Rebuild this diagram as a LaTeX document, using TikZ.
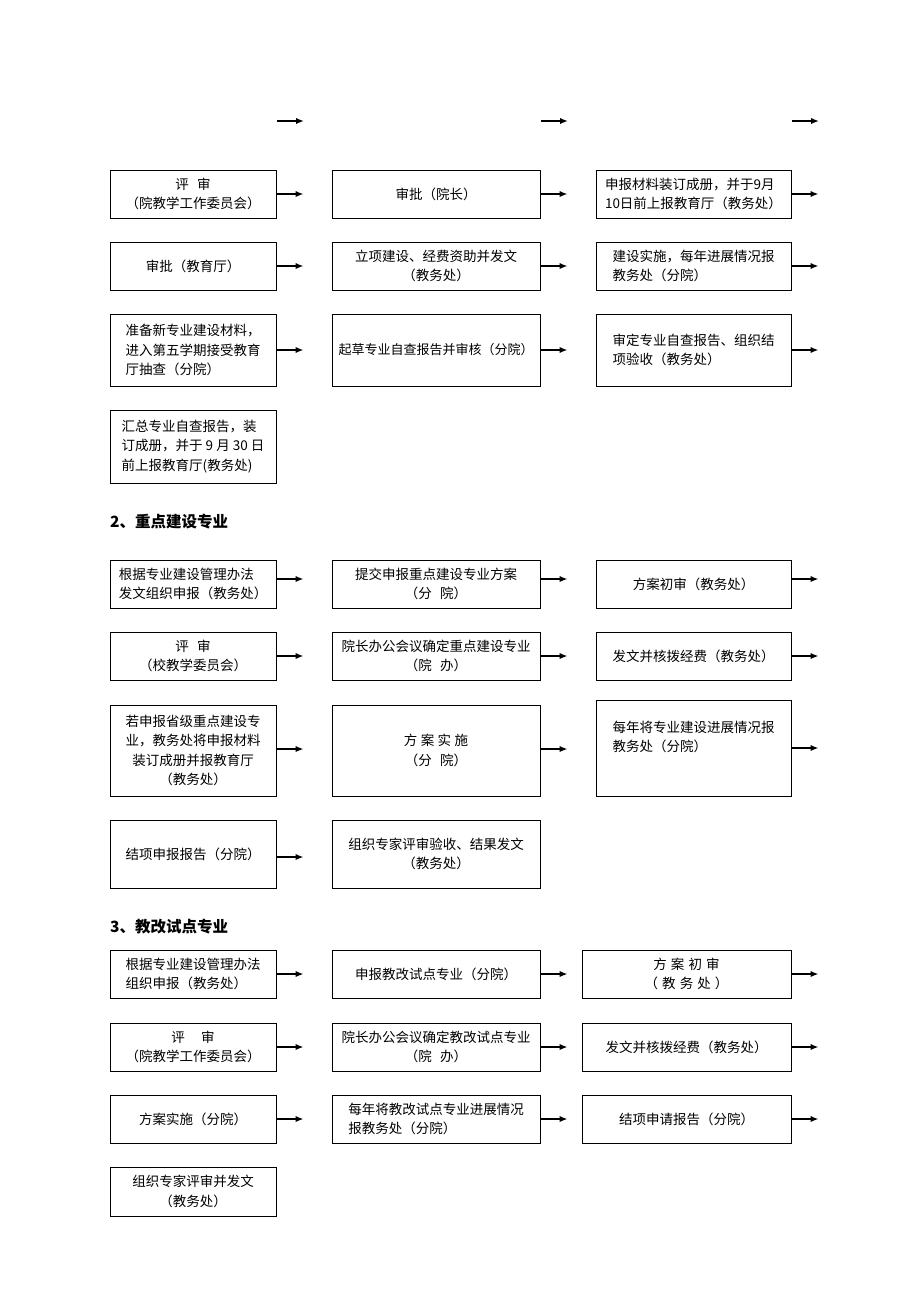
\documentclass[tikz,border=0pt]{standalone}
\usepackage{fontspec}
\setmainfont{Noto Sans CJK SC}
\usetikzlibrary{arrows.meta}
\tikzset{
  box/.style={draw, line width=1pt, inner sep=2pt, align=center,
    font=\fontsize{13.5}{19.5}\selectfont},
  boxA/.style={box, minimum width=166pt, minimum height=48pt},
  boxB/.style={box, minimum width=208pt, minimum height=48pt},
  boxC/.style={box, minimum width=195pt, minimum height=48pt},
  boxCC/.style={box, minimum width=209pt, minimum height=48pt},
  lft/.style={align=left},
  arr/.style={line width=1.7pt, -{Latex[length=8pt,width=6.5pt]}},
  head/.style={anchor=west, inner sep=0pt, font=\fontsize{15.5}{18}\selectfont\bfseries},
}
\begin{document}
\begin{tikzpicture}[x=1pt,y=-1pt]
\useasboundingbox (0,0) rectangle (920,1302);

% top stray arrows
\coordinate (t1s) at (277,121); \coordinate (t1e) at (304,121);
\coordinate (t2s) at (541,121); \coordinate (t2e) at (568,121);
\coordinate (t3s) at (792,121); \coordinate (t3e) at (819,121);
\draw[arr] (t1s) -- (t1e);
\draw[arr] (t2s) -- (t2e);
\draw[arr] (t3s) -- (t3e);

% ---------- section 1 ----------
\node[boxA] (s1a1) at (193,194) {评\hspace{0.6em}审\\（院教学工作委员会）};
\node[boxB] (s1b1) at (436,194) {审批（院长）};
\node[boxC,lft] (s1c1) at (693.5,194) {申报材料装订成册，并于9月\\10日前上报教育厅（教务处）};

\node[boxA] (s1a2) at (193,266) {审批（教育厅）};
\node[boxB] (s1b2) at (436,266) {立项建设、经费资助并发文\\（教务处）};
\node[boxC,lft] (s1c2) at (693.5,266) {建设实施，每年进展情况报\\教务处（分院）};

\node[boxA,lft,minimum height=72pt] (s1a3) at (193,350) {准备新专业建设材料，\\进入第五学期接受教育\\厅抽查（分院）};
\node[boxB,minimum height=72pt,inner xsep=0pt,font=\fontsize{13}{19.5}\selectfont] (s1b3) at (436,350) {起草专业自查报告并审核（分院）};
\node[boxC,lft,minimum height=72pt] (s1c3) at (693.5,350) {审定专业自查报告、组织结\\项验收（教务处）};

\node[boxA,lft,minimum height=73pt] (s1a4) at (193,446.5) {汇总专业自查报告，装\\订成册，并于 9 月 30 日\\前上报教育厅(教务处)};

\foreach \n in {s1a1,s1b1,s1c1,s1a2,s1b2,s1c2,s1a3,s1b3,s1c3}
  \draw[arr] (\n.east) -- ++(27,0);

% ---------- section 2 ----------
\node[head] (h2) at (110,522) {2、重点建设专业};

\node[boxA,lft] (s2a1) at (193,584) {根据专业建设管理办法\\发文组织申报（教务处）};
\node[boxB] (s2b1) at (436,584) {提交申报重点建设专业方案\\（分\hspace{0.6em}院）};
\node[boxC] (s2c1) at (693.5,584) {方案初审（教务处）};

\node[boxA] (s2a2) at (193,656) {评\hspace{0.6em}审\\（校教学委员会）};
\node[boxB] (s2b2) at (436,656) {院长办公会议确定重点建设专业\\（院\hspace{0.6em}办）};
\node[boxC] (s2c2) at (693.5,656) {发文并核拨经费（教务处）};

\node[boxA,minimum height=91pt] (s2a3) at (193,750.5) {若申报省级重点建设专\\业，教务处将申报材料\\装订成册并报教育厅\\（教务处）};
\node[boxB,minimum height=91pt] (s2b3) at (436,750.5) {方\hspace{0.25em}案\hspace{0.25em}实\hspace{0.25em}施\\（分\hspace{0.6em}院）};
\node[boxC,lft,minimum height=96pt] (s2c3) at (693.5,748) {每年将专业建设进展情况报\\教务处（分院）\\[4pt]};

\node[boxA,minimum height=68pt] (s2a4) at (193,854) {结项申报报告（分院）};
\node[boxB,minimum height=68pt] (s2b4) at (436,854) {组织专家评审验收、结果发文\\（教务处）};

\foreach \n in {s2a1,s2b1,s2c1}
  \draw[arr] ([yshift=5pt]\n.east) -- ++(27,0);
\foreach \n in {s2a2,s2b2,s2c2,s2c3}
  \draw[arr] (\n.east) -- ++(27,0);
\foreach \n in {s2a3,s2b3}
  \draw[arr] ([yshift=1.5pt]\n.east) -- ++(27,0);
\draw[arr] ([yshift=-3pt]s2a4.east) -- ++(27,0);

% ---------- section 3 ----------
\node[head] (h3) at (110,927) {3、教改试点专业};

\node[boxA,lft] (s3a1) at (193,974) {根据专业建设管理办法\\组织申报（教务处）};
\node[boxB] (s3b1) at (436,974) {申报教改试点专业（分院）};
\node[boxCC] (s3c1) at (686.5,974) {方\hspace{0.3em}案\hspace{0.3em}初\hspace{0.3em}审\\（\hspace{0.3em}教\hspace{0.3em}务\hspace{0.3em}处\hspace{0.3em}）};

\node[boxA] (s3a2) at (193,1047) {评\hspace{1.2em}审\\（院教学工作委员会）};
\node[boxB] (s3b2) at (436,1047) {院长办公会议确定教改试点专业\\（院\hspace{0.6em}办）};
\node[boxCC] (s3c2) at (686.5,1047) {发文并核拨经费（教务处）};

\node[boxA] (s3a3) at (193,1119) {方案实施（分院）};
\node[boxB,lft] (s3b3) at (436,1119) {每年将教改试点专业进展情况\\报教务处（分院）};
\node[boxCC] (s3c3) at (686.5,1119) {结项申请报告（分院）};

\node[boxA,minimum height=49pt] (s3a4) at (193,1191.5) {组织专家评审并发文\\（教务处）};

\foreach \n in {s3a1,s3b1,s3c1,s3a2,s3b2,s3c2,s3a3,s3b3,s3c3}
  \draw[arr] (\n.east) -- ++(27,0);
\end{tikzpicture}
\end{document}
